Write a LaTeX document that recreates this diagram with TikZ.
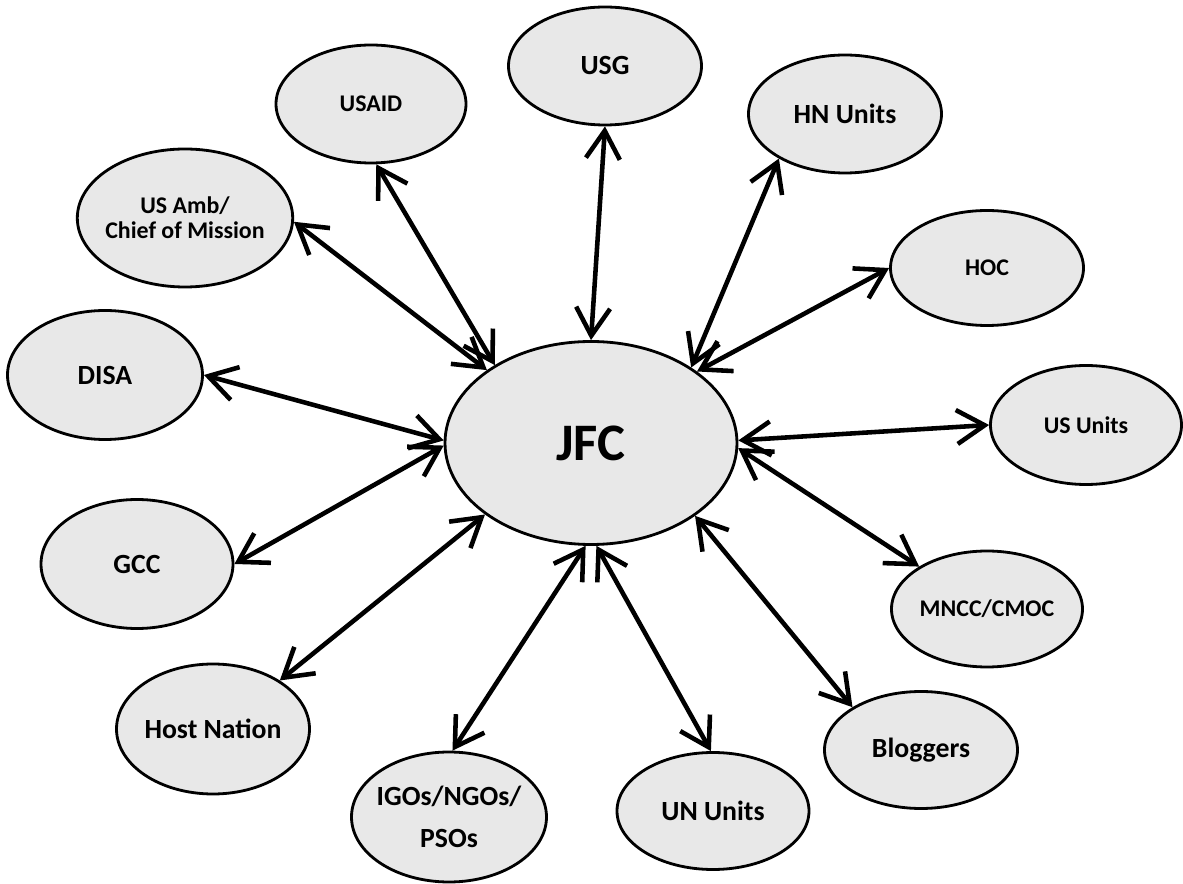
\documentclass[tikz,border=0pt]{standalone}
\usepackage{fontspec}
\setmainfont{Carlito}
\usetikzlibrary{shapes.geometric,arrows.meta}

\tikzset{
    actor/.style={ellipse, draw=borderColour, fill=fillColour, line width=0.8pt,
        inner sep=-1pt, minimum width=1.93cm, minimum height=1.18cm, align=center,
        font=\bfseries\fontsize{7.9}{12}\selectfont},
    smallactor/.style={actor, font=\bfseries\fontsize{6.8}{7}\selectfont},
    link/.style={<->, >={Straight Barb[length=2.8mm,width=3.4mm]}, line width=1.3pt}
}

\begin{document}
\begin{tikzpicture}
    \definecolor{borderColour}{HTML}{000000}
    \definecolor{fillColour}{HTML}{E8E8E8}

    \useasboundingbox (0,0) rectangle (11.83,-8.84);

    % Centre node
    \node[actor, minimum width=2.92cm, minimum height=2.03cm,
          font=\bfseries\fontsize{15}{18}\selectfont] (jfc) at (5.91,-4.43) {JFC};

    % Outer ring, clockwise from the top
    \node[actor] (usg) at (6.05,-0.66) {USG};
    \node[actor] (hnunits) at (8.45,-1.14) {HN Units};
    \node[smallactor, minimum height=1.15cm] (hoc) at (9.87,-2.68) {HOC};
    \node[smallactor, minimum width=1.91cm, minimum height=1.19cm] (usunits) at (10.86,-4.25) {US Units};
    \node[smallactor, minimum width=1.91cm, minimum height=1.16cm] (mncc) at (9.87,-6.09) {MNCC/CMOC};
    \node[actor, minimum height=1.17cm] (bloggers) at (9.21,-7.50) {Bloggers};
    \node[actor, minimum width=1.92cm, minimum height=1.17cm] (ununits) at (7.13,-8.11) {UN Units};
    \node[actor, minimum width=1.95cm, minimum height=1.30cm] (igos) at (4.49,-8.17) {IGOs/NGOs/\\PSOs};
    \node[actor, minimum height=1.30cm] (hostnation) at (2.13,-7.29) {Host Nation};
    \node[actor, minimum width=1.92cm, minimum height=1.29cm] (gcc) at (1.37,-5.64) {GCC};
    \node[actor, minimum width=1.95cm, minimum height=1.29cm] (disa) at (1.05,-3.75) {DISA};
    \node[smallactor, minimum width=2.06cm, minimum height=1.38cm] (usamb) at (1.85,-2.18) {US Amb/\\Chief of Mission};
    \node[smallactor, minimum width=1.90cm] (usaid) at (3.71,-1.04) {USAID};

    % Two-way links to the centre
    \foreach \target/\from/\to in {usg/90/270, hnunits/37/214, hoc/34/180,
        usunits/1/180, mncc/358/148, bloggers/325/148, ununits/273/92,
        igos/267/87, hostnation/214/36, gcc/181/0, disa/179/0,
        usamb/145/358, usaid/141/275}
        \draw[link] (jfc.\from) -- (\target.\to);

\end{tikzpicture}
\end{document}
